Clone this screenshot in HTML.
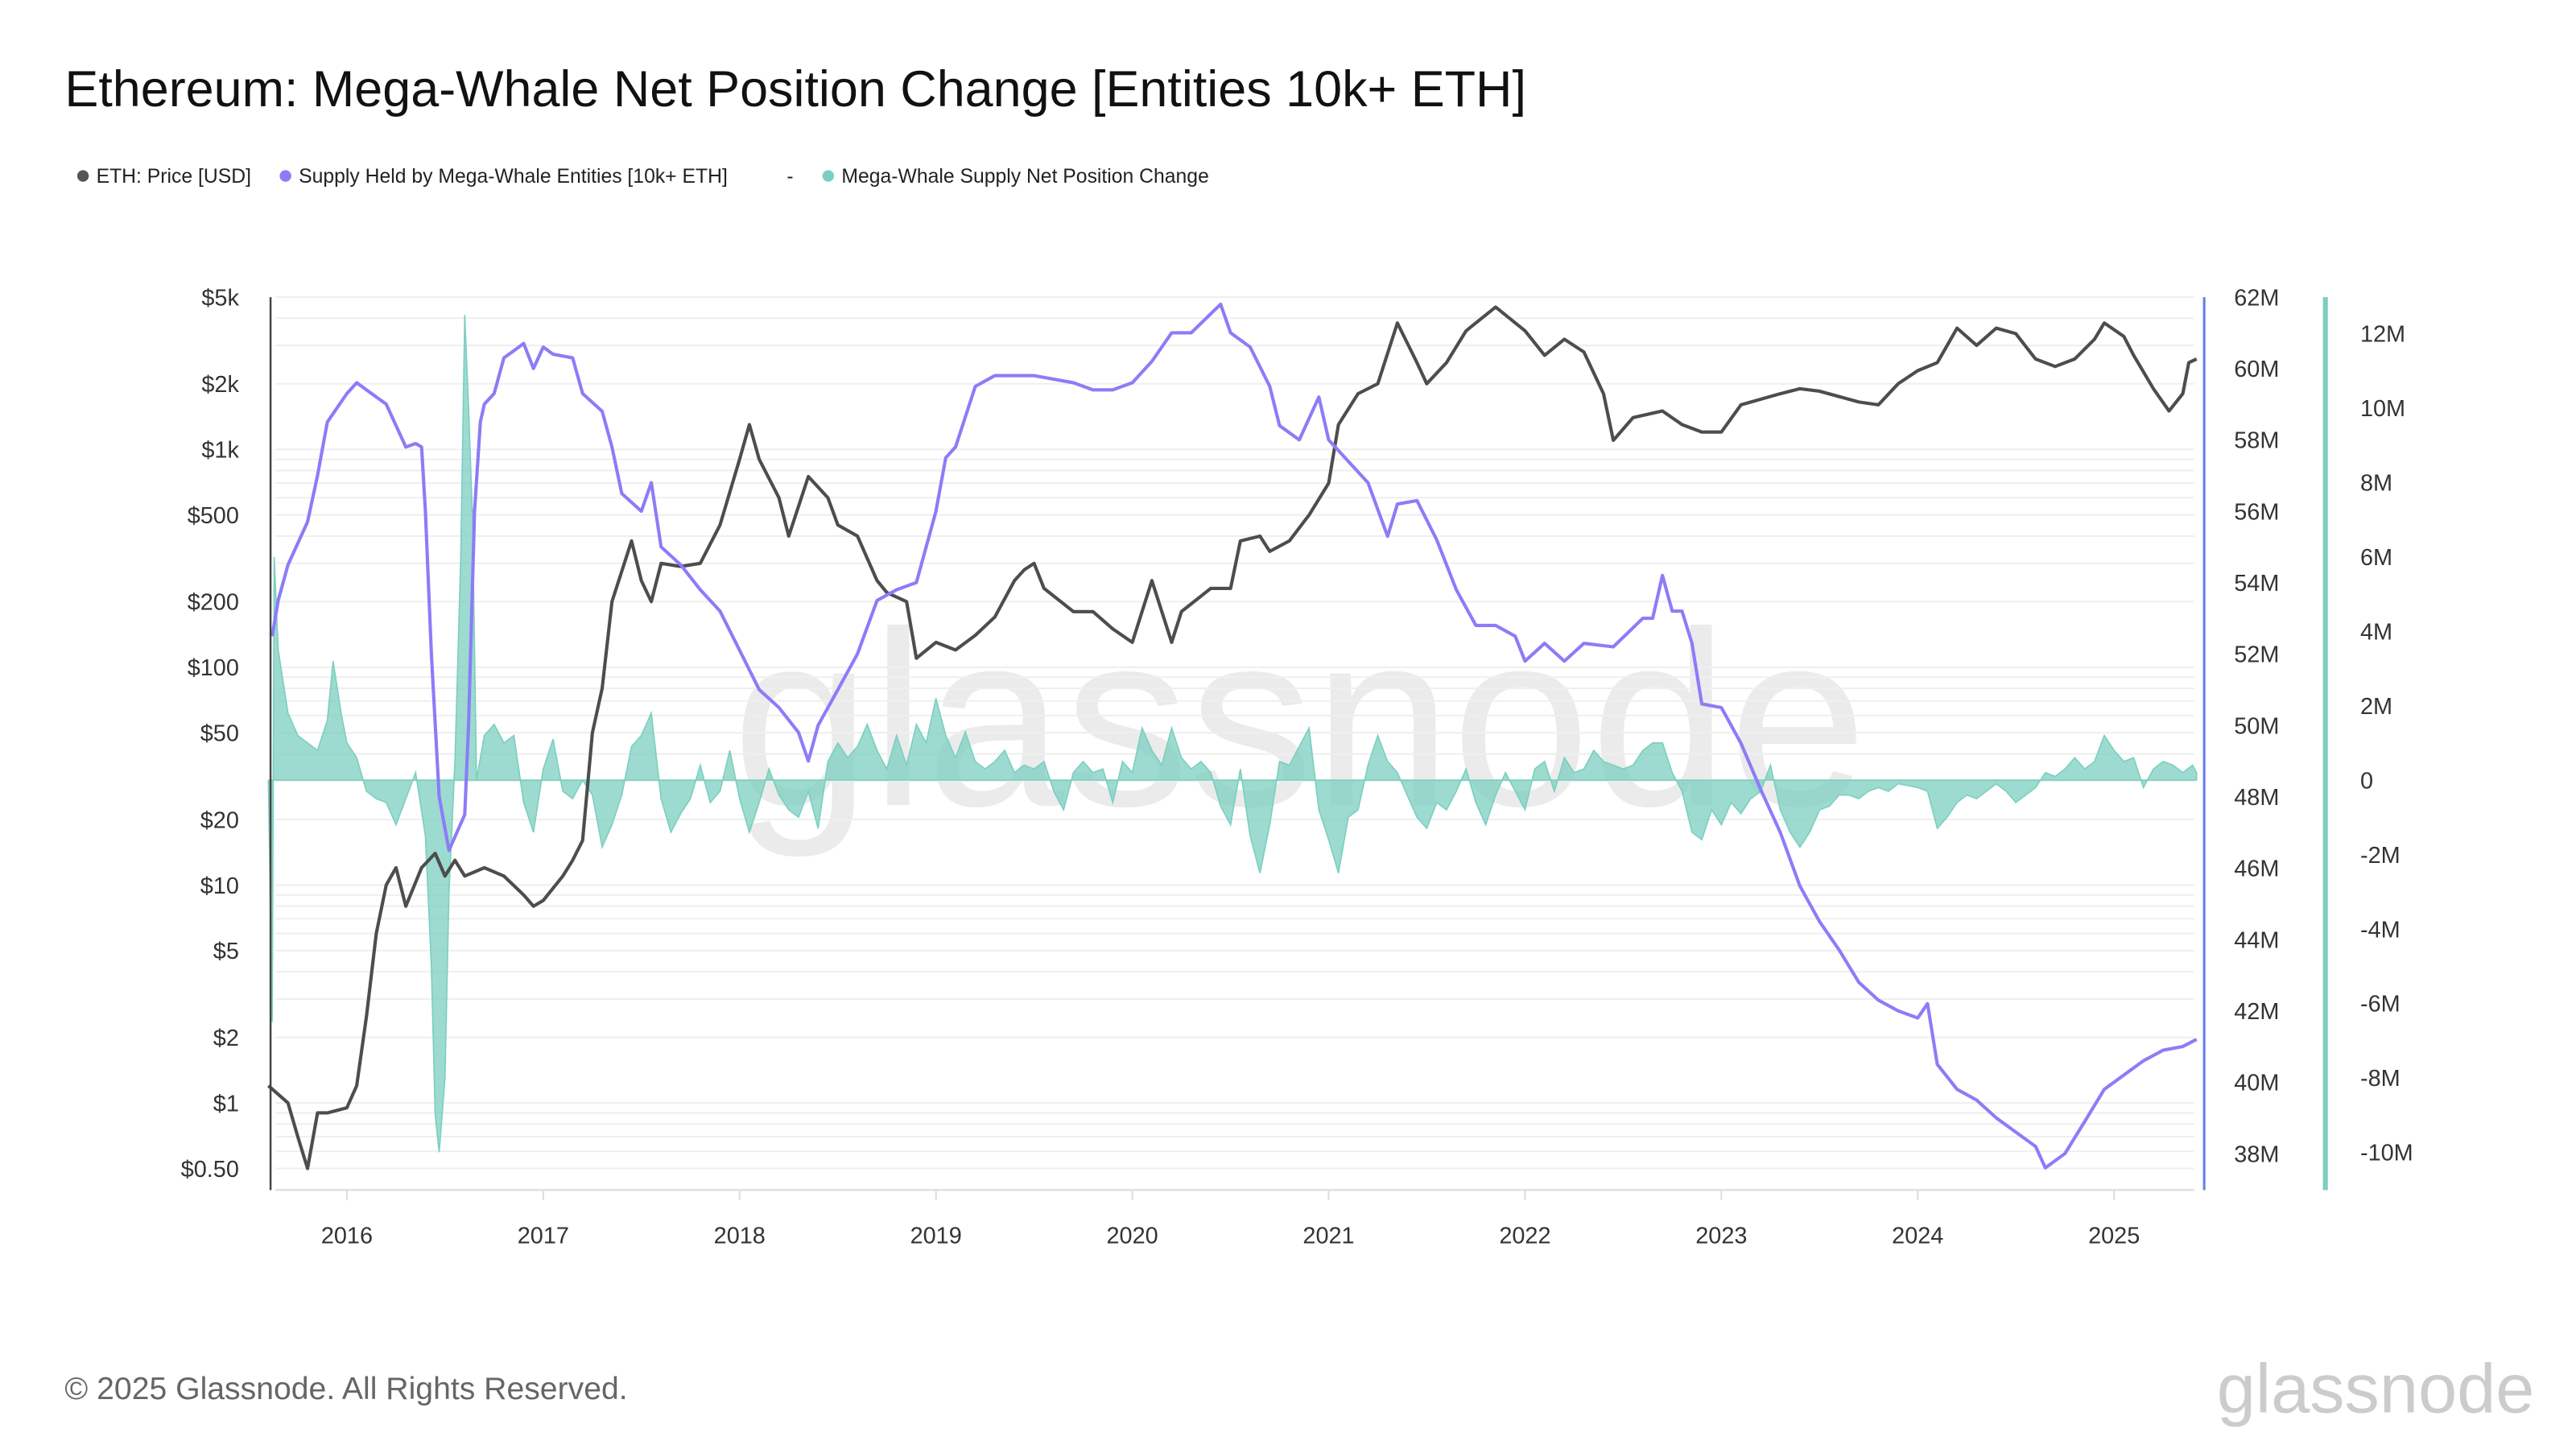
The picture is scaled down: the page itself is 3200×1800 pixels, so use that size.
<!DOCTYPE html>
<html><head><meta charset="utf-8"><style>
html,body{margin:0;padding:0;background:#fff;}
svg{display:block;font-family:"Liberation Sans",Arial,sans-serif;}
</style></head><body>
<svg id="chart" width="3200" height="1800" viewBox="0 0 1552 873" xmlns="http://www.w3.org/2000/svg">
<text x="39" y="64" font-size="30.5" fill="#111">Ethereum: Mega-Whale Net Position Change [Entities 10k+ ETH]</text>
<g font-size="12" fill="#222">
 <g><circle cx="50" cy="106" r="3.5" fill="#555"/><text x="58" y="110">ETH: Price [USD]</text></g>
 <g><circle cx="172" cy="106" r="3.5" fill="#8c7cf7"/><text x="180" y="110">Supply Held by Mega-Whale Entities [10k+ ETH]</text></g>
 <text x="474" y="110">-</text>
 <g><circle cx="499" cy="106" r="3.5" fill="#7ccfc0"/><text x="507" y="110">Mega-Whale Supply Net Position Change</text></g>
</g>
<text x="783" y="485" font-size="150" fill="#ebebeb" text-anchor="middle">glassnode</text>
<g id="grid"></g>
<g id="marks"></g>
<g id="axes" font-size="14" fill="#333"></g>
<text x="39" y="843" font-size="19" fill="#666">© 2025 Glassnode. All Rights Reserved.</text>
<text x="1527" y="851" font-size="42" fill="#ccc" text-anchor="end">glassnode</text>
</svg>
<script>
const years=[2016,2017,2018,2019,2020,2021,2022,2023,2024,2025];
const priceTicks=[5000,2000,1000,500,200,100,50,20,10,5,2,1,0.5];
const priceTickLabels=["$5k","$2k","$1k","$500","$200","$100","$50","$20","$10","$5","$2","$1","$0.50"];
const supplyTicks=[62,60,58,56,54,52,50,48,46,44,42,40,38];
const netTicks=[12,10,8,6,4,2,0,-2,-4,-6,-8,-10];
const priceT=[2015.6,2015.7,2015.75,2015.8,2015.85,2015.9,2016.0,2016.05,2016.1,2016.15,2016.2,2016.25,2016.3,2016.38,2016.45,2016.5,2016.55,2016.6,2016.7,2016.8,2016.9,2016.95,2017.0,2017.1,2017.15,2017.2,2017.25,2017.3,2017.35,2017.45,2017.5,2017.55,2017.6,2017.7,2017.8,2017.9,2018.0,2018.05,2018.1,2018.2,2018.25,2018.35,2018.45,2018.5,2018.6,2018.7,2018.75,2018.85,2018.9,2019.0,2019.1,2019.2,2019.3,2019.4,2019.45,2019.5,2019.55,2019.7,2019.8,2019.9,2020.0,2020.1,2020.2,2020.25,2020.4,2020.5,2020.55,2020.65,2020.7,2020.8,2020.9,2021.0,2021.05,2021.15,2021.25,2021.35,2021.45,2021.5,2021.6,2021.7,2021.85,2022.0,2022.1,2022.2,2022.3,2022.4,2022.45,2022.55,2022.7,2022.8,2022.9,2023.0,2023.1,2023.3,2023.4,2023.5,2023.7,2023.8,2023.9,2024.0,2024.1,2024.2,2024.3,2024.4,2024.5,2024.6,2024.7,2024.8,2024.9,2024.95,2025.05,2025.1,2025.2,2025.28,2025.35,2025.38,2025.42];
const priceV=[1.2,1.0,0.7,0.5,0.9,0.9,0.95,1.2,2.5,6,10,12,8,12,14,11,13,11,12,11,9,8,8.5,11,13,16,50,80,200,380,250,200,300,290,300,450,900,1300,900,600,400,750,600,450,400,250,220,200,110,130,120,140,170,250,280,300,230,180,180,150,130,250,130,180,230,230,380,400,340,380,500,700,1300,1800,2000,3800,2500,2000,2500,3500,4500,3500,2700,3200,2800,1800,1100,1400,1500,1300,1200,1200,1600,1800,1900,1850,1650,1600,2000,2300,2500,3600,3000,3600,3400,2600,2400,2600,3200,3800,3300,2700,1900,1500,1800,2500,2600];
const supplyT=[2015.62,2015.65,2015.7,2015.8,2015.85,2015.9,2016.0,2016.05,2016.1,2016.2,2016.25,2016.3,2016.35,2016.38,2016.4,2016.43,2016.47,2016.52,2016.6,2016.62,2016.65,2016.68,2016.7,2016.75,2016.8,2016.85,2016.9,2016.95,2017.0,2017.05,2017.15,2017.2,2017.3,2017.35,2017.4,2017.5,2017.55,2017.6,2017.7,2017.8,2017.9,2018.0,2018.1,2018.2,2018.3,2018.35,2018.4,2018.5,2018.6,2018.7,2018.8,2018.9,2019.0,2019.05,2019.1,2019.2,2019.3,2019.5,2019.7,2019.8,2019.9,2020.0,2020.1,2020.2,2020.3,2020.45,2020.5,2020.6,2020.7,2020.75,2020.85,2020.95,2021.0,2021.1,2021.2,2021.3,2021.35,2021.45,2021.55,2021.65,2021.75,2021.85,2021.95,2022.0,2022.1,2022.2,2022.3,2022.45,2022.6,2022.65,2022.7,2022.75,2022.8,2022.85,2022.9,2023.0,2023.1,2023.2,2023.3,2023.4,2023.5,2023.6,2023.7,2023.8,2023.9,2024.0,2024.05,2024.1,2024.2,2024.3,2024.4,2024.5,2024.6,2024.65,2024.75,2024.85,2024.95,2025.05,2025.15,2025.25,2025.35,2025.42];
const supplyV=[52.5,53.5,54.5,55.7,57,58.5,59.3,59.6,59.4,59.0,58.4,57.8,57.9,57.8,56,52,48,46.5,47.5,50,56,58.5,59,59.3,60.3,60.5,60.7,60.0,60.6,60.4,60.3,59.3,58.8,57.8,56.5,56,56.8,55,54.5,53.8,53.2,52.1,51,50.5,49.8,49,50,51,52,53.5,53.8,54,56,57.5,57.8,59.5,59.8,59.8,59.6,59.4,59.4,59.6,60.2,61,61,61.8,61.0,60.6,59.5,58.4,58,59.2,58,57.4,56.8,55.3,56.2,56.3,55.2,53.8,52.8,52.8,52.5,51.8,52.3,51.8,52.3,52.2,53,53.0,54.2,53.2,53.2,52.3,50.6,50.5,49.5,48.2,47,45.5,44.5,43.7,42.8,42.3,42,41.8,42.2,40.5,39.8,39.5,39,38.6,38.2,37.6,38,38.9,39.8,40.2,40.6,40.9,41.0,41.2];
const netT=[2015.6,2015.62,2015.63,2015.65,2015.7,2015.75,2015.8,2015.85,2015.9,2015.93,2015.97,2016.0,2016.05,2016.1,2016.15,2016.2,2016.25,2016.3,2016.35,2016.4,2016.43,2016.45,2016.47,2016.5,2016.52,2016.55,2016.58,2016.6,2016.62,2016.64,2016.66,2016.7,2016.75,2016.8,2016.85,2016.9,2016.95,2017.0,2017.05,2017.1,2017.15,2017.2,2017.25,2017.3,2017.35,2017.4,2017.45,2017.5,2017.55,2017.6,2017.65,2017.7,2017.75,2017.8,2017.85,2017.9,2017.95,2018.0,2018.05,2018.1,2018.15,2018.2,2018.25,2018.3,2018.35,2018.4,2018.45,2018.5,2018.55,2018.6,2018.65,2018.7,2018.75,2018.8,2018.85,2018.9,2018.95,2019.0,2019.05,2019.1,2019.15,2019.2,2019.25,2019.3,2019.35,2019.4,2019.45,2019.5,2019.55,2019.6,2019.65,2019.7,2019.75,2019.8,2019.85,2019.9,2019.95,2020.0,2020.05,2020.1,2020.15,2020.2,2020.25,2020.3,2020.35,2020.4,2020.45,2020.5,2020.55,2020.6,2020.65,2020.7,2020.75,2020.8,2020.85,2020.9,2020.95,2021.0,2021.05,2021.1,2021.15,2021.2,2021.25,2021.3,2021.35,2021.4,2021.45,2021.5,2021.55,2021.6,2021.65,2021.7,2021.75,2021.8,2021.85,2021.9,2021.95,2022.0,2022.05,2022.1,2022.15,2022.2,2022.25,2022.3,2022.35,2022.4,2022.45,2022.5,2022.55,2022.6,2022.65,2022.7,2022.75,2022.8,2022.85,2022.9,2022.95,2023.0,2023.05,2023.1,2023.15,2023.2,2023.25,2023.3,2023.35,2023.4,2023.45,2023.5,2023.55,2023.6,2023.65,2023.7,2023.75,2023.8,2023.85,2023.9,2024.0,2024.05,2024.1,2024.15,2024.2,2024.25,2024.3,2024.35,2024.4,2024.45,2024.5,2024.55,2024.6,2024.65,2024.7,2024.75,2024.8,2024.85,2024.9,2024.95,2025.0,2025.05,2025.1,2025.15,2025.2,2025.25,2025.3,2025.35,2025.4,2025.42];
const netV=[0,-6.5,6,3.5,1.8,1.2,1.0,0.8,1.6,3.2,1.8,1.0,0.6,-0.3,-0.5,-0.6,-1.2,-0.5,0.2,-1.5,-5,-9,-10,-8,-3,0.5,6,12.5,10,7,0,1.2,1.5,1.0,1.2,-0.6,-1.4,0.3,1.1,-0.3,-0.5,0,-0.4,-1.8,-1.2,-0.4,0.9,1.2,1.8,-0.5,-1.4,-0.9,-0.5,0.4,-0.6,-0.3,0.8,-0.5,-1.4,-0.6,0.3,-0.4,-0.8,-1.0,-0.3,-1.3,0.5,1.0,0.6,0.9,1.5,0.8,0.3,1.2,0.4,1.5,1.0,2.2,1.2,0.6,1.3,0.5,0.3,0.5,0.8,0.2,0.4,0.3,0.5,-0.3,-0.8,0.2,0.5,0.2,0.3,-0.6,0.5,0.2,1.4,0.8,0.4,1.4,0.6,0.3,0.5,0.2,-0.7,-1.2,0.3,-1.5,-2.5,-1.2,0.5,0.4,0.9,1.4,-0.8,-1.6,-2.5,-1.0,-0.8,0.4,1.2,0.5,0.2,-0.4,-1.0,-1.3,-0.6,-0.8,-0.3,0.3,-0.6,-1.2,-0.4,0.2,-0.3,-0.8,0.3,0.5,-0.3,0.6,0.2,0.3,0.8,0.5,0.4,0.3,0.4,0.8,1.0,1.0,0.2,-0.3,-1.4,-1.6,-0.8,-1.2,-0.6,-0.9,-0.5,-0.3,0.4,-0.8,-1.4,-1.8,-1.4,-0.8,-0.7,-0.4,-0.4,-0.5,-0.3,-0.2,-0.3,-0.1,-0.2,-0.3,-1.3,-1.0,-0.6,-0.4,-0.5,-0.3,-0.1,-0.3,-0.6,-0.4,-0.2,0.2,0.1,0.3,0.6,0.3,0.5,1.2,0.8,0.5,0.6,-0.2,0.3,0.5,0.4,0.2,0.4,0.2];

const NS='http://www.w3.org/2000/svg';
const L=163,R=1328,T=179,B=717;
const xS=y=>209+(y-2016)*118.3;
const yP=v=>704-(Math.log10(v)-Math.log10(0.5))*131.25;
const yS=v=>179+(62-v)*21.5;
const yN=v=>470-v*22.42;
function mk(tag,attrs,parent){const e=document.createElementNS(NS,tag);for(const k in attrs)e.setAttribute(k,attrs[k]);parent.appendChild(e);return e;}
const grid=document.getElementById('grid'),marks=document.getElementById('marks'),axes=document.getElementById('axes');
for(let d=-1;d<=3;d++){for(let m=1;m<=9;m++){const v=m*Math.pow(10,d);if(v<0.4||v>5000)continue;const y=yP(v);
 const g=mk('line',{x1:166,x2:1322,y1:y,y2:y,stroke:'#efefef','stroke-width':1},grid);
 
 }}
let d='M'+xS(netT[0])+','+yN(0);
netT.forEach((t,i)=>{d+=' L'+xS(t).toFixed(1)+','+yN(netV[i]).toFixed(1);});
d+=' L'+xS(netT[netT.length-1])+','+yN(0)+' Z';
const area=mk('path',{d:d,fill:'#7ccfc0','fill-opacity':0.75,stroke:'#7ccfc0','stroke-width':0.8},marks);


function line(ts,vs,f,color,name){const p=ts.map((t,i)=>xS(t).toFixed(1)+','+f(vs[i]).toFixed(1)).join(' L');
 const e=mk('path',{d:'M'+p,fill:'none',stroke:color,'stroke-width':2,'stroke-linejoin':'round'},marks);
 
 }
line(priceT,priceV,yP,'#4d4d4d','eth-price-line');
line(supplyT,supplyV,yS,'#8c7cf7','mega-whale-supply-line');
const la=mk('line',{x1:L,x2:L,y1:T,y2:B,stroke:'#444','stroke-width':1.2},axes);


const ba=mk('line',{x1:166,x2:1322,y1:B,y2:B,stroke:'#ddd','stroke-width':1},axes);


const sa=mk('line',{x1:R,x2:R,y1:T,y2:B,stroke:'#6a7ee8','stroke-width':1.5},axes);


const na=mk('line',{x1:1401,x2:1401,y1:T,y2:B,stroke:'#7ccfc0','stroke-width':3},axes);


priceTicks.forEach((v,i)=>{const t=mk('text',{x:144,y:yP(v)+5,'text-anchor':'end'},axes);t.textContent=priceTickLabels[i];
 
 });
supplyTicks.forEach(v=>{const t=mk('text',{x:1346,y:yS(v)+5},axes);t.textContent=v+'M';
 
 });
netTicks.forEach(v=>{const t=mk('text',{x:1422,y:yN(v)+5},axes);t.textContent=v===0?'0':(v<0?'-'+(-v):v)+'M';
 
 });
years.forEach(y=>{const x=xS(y);
 const tk=mk('line',{x1:x,x2:x,y1:B,y2:B+6,stroke:'#ddd'},axes);
 
 
 const t=mk('text',{x:x,y:B+32,'text-anchor':'middle'},axes);t.textContent=y;
 
 });
</script>
</body></html>
